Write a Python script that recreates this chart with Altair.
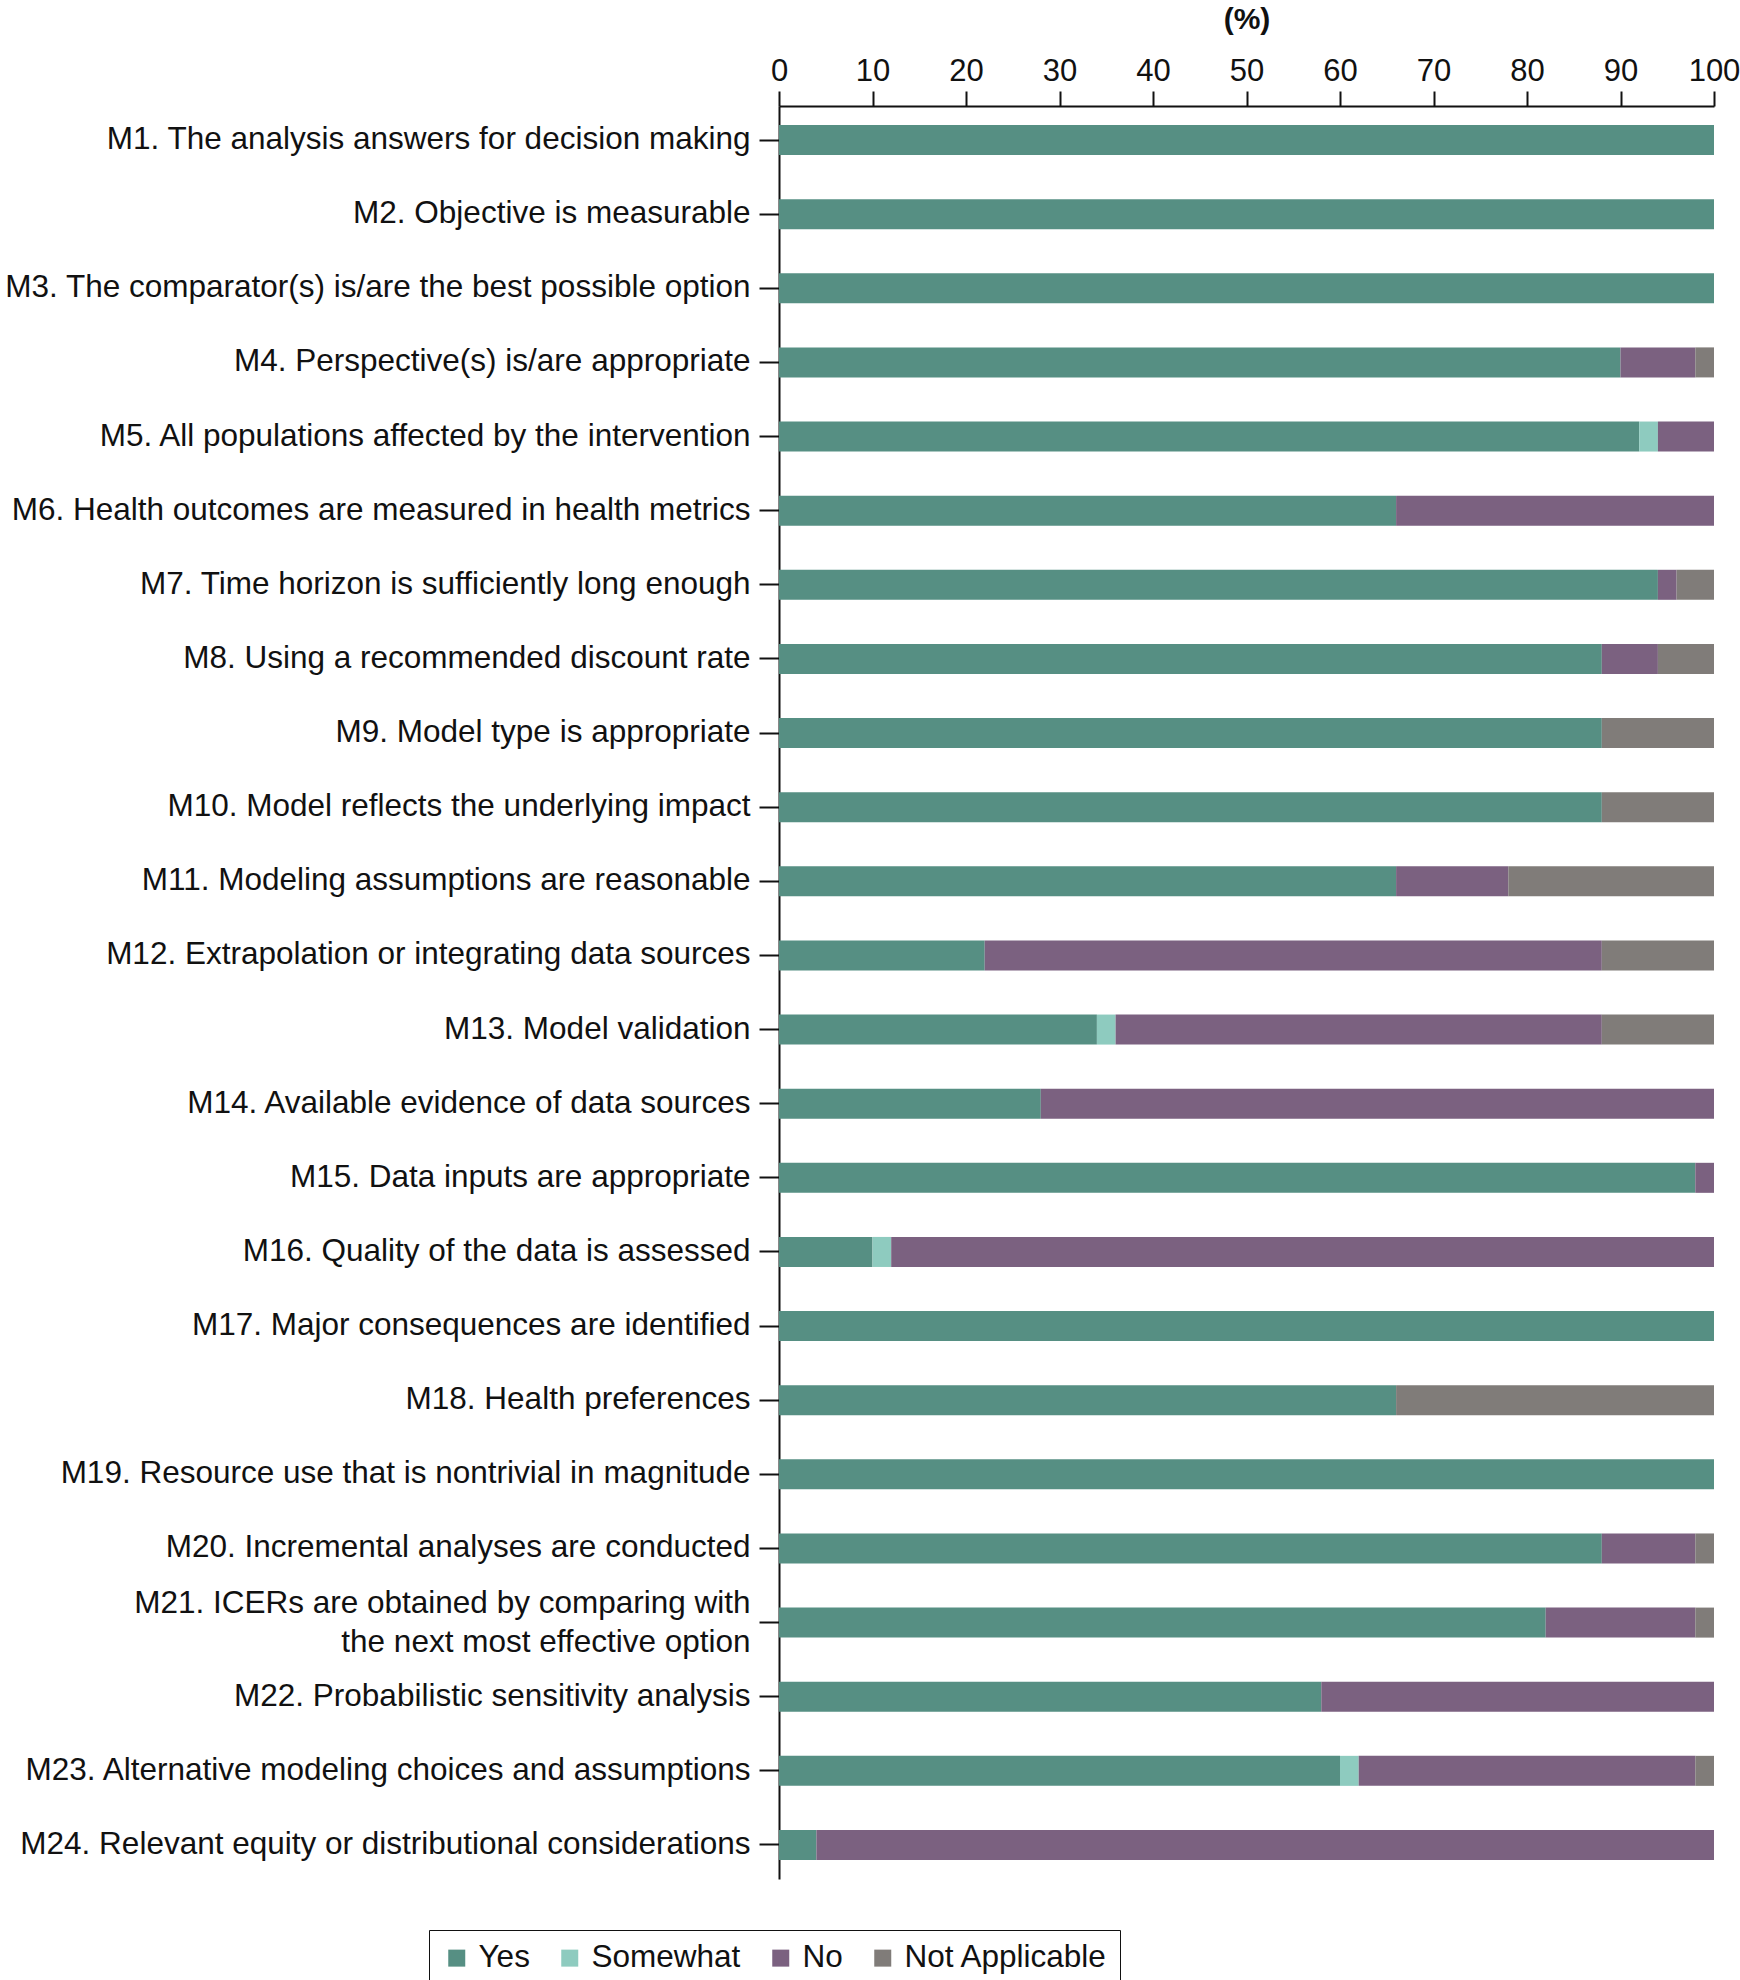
import altair as alt
import pandas as pd

items = [
    "M1. The analysis answers for decision making",
    "M2. Objective is measurable",
    "M3. The comparator(s) is/are the best possible option",
    "M4. Perspective(s) is/are appropriate",
    "M5. All populations affected by the intervention",
    "M6. Health outcomes are measured in health metrics",
    "M7. Time horizon is sufficiently long enough",
    "M8. Using a recommended discount rate",
    "M9. Model type is appropriate",
    "M10. Model reflects the underlying impact",
    "M11. Modeling assumptions are reasonable",
    "M12. Extrapolation or integrating data sources",
    "M13. Model validation",
    "M14. Available evidence of data sources",
    "M15. Data inputs are appropriate",
    "M16. Quality of the data is assessed",
    "M17. Major consequences are identified",
    "M18. Health preferences",
    "M19. Resource use that is nontrivial in magnitude",
    "M20. Incremental analyses are conducted",
    "M21. ICERs are obtained by comparing with\u00a0|the next most effective option",
    "M22. Probabilistic sensitivity analysis",
    "M23. Alternative modeling choices and assumptions",
    "M24. Relevant equity or distributional considerations",
]
yes = [100, 100, 100, 90, 92, 66, 94, 88, 88, 88, 66, 22, 34, 28, 98, 10, 100, 66, 100, 88, 82, 58, 60, 4]
somewhat = [0, 0, 0, 0, 2, 0, 0, 0, 0, 0, 0, 0, 2, 0, 0, 2, 0, 0, 0, 0, 0, 0, 2, 0]
no = [0, 0, 0, 8, 6, 34, 2, 6, 0, 0, 12, 66, 52, 72, 2, 88, 0, 0, 0, 10, 16, 42, 36, 96]
na = [0, 0, 0, 2, 0, 0, 4, 6, 12, 12, 22, 12, 12, 0, 0, 0, 0, 34, 0, 2, 2, 0, 2, 0]

categories = ["Yes", "Somewhat", "No", "Not Applicable"]
colors = ["#568f83", "#8ecbbf", "#7b6180", "#807c79"]
x_ticks = [0, 10, 20, 30, 40, 50, 60, 70, 80, 90, 100]

rows = []
for i, item in enumerate(items):
    for k, (cat, vals) in enumerate(zip(categories, [yes, somewhat, no, na])):
        if vals[i] > 0:
            rows.append({"item": item, "category": cat, "value": vals[i], "order": k})
df = pd.DataFrame(rows)

FONT = "Liberation Sans"
INK = "#111111"

chart = alt.Chart(df).mark_bar().encode(
    x=alt.X(
        "value:Q",
        stack="zero",
        scale=alt.Scale(domain=[0, 100], nice=False),
        axis=alt.Axis(
            orient="top",
            values=x_ticks,
            title="(%)",
            titleFontWeight="bold",
            titleFontSize=30,
            titleFont=FONT,
            titleColor=INK,
            titlePadding=21,
            labelFont=FONT,
            labelFontSize=31,
            labelColor=INK,
            labelPadding=4,
            tickSize=15,
            tickWidth=2,
            tickColor=INK,
            domainColor=INK,
            domainWidth=2,
            grid=False,
            labelFlush=False,
        ),
    ),
    y=alt.Y(
        "item:N",
        sort=items,
        scale=alt.Scale(paddingInner=0.595, paddingOuter=0.2565),
        axis=alt.Axis(
            title=None,
            labelExpr="split(datum.label, '|')",
            labelFont=FONT,
            labelFontSize=31.5,
            labelColor=INK,
            labelLineHeight=39,
            labelOffset={
                "condition": {"test": "indexof(datum.value, 'M21.') == 0", "value": -19},
                "value": 0,
            },
            labelPadding=9,
            labelLimit=900,
            tickSize=20,
            tickWidth=2,
            tickColor=INK,
            domainColor=INK,
            domainWidth=2,
        ),
    ),
    color=alt.Color(
        "category:N",
        scale=alt.Scale(domain=categories, range=colors),
        legend=alt.Legend(
            title=None,
            orient="none",
            legendX=-350,
            legendY=1824,
            direction="horizontal",
            columns=4,
            symbolType="square",
            symbolSize=289,
            symbolStrokeWidth=0,
            labelFont=FONT,
            labelFontSize=31.5,
            labelColor=INK,
            labelLimit=0,
            columnPadding=24,
            strokeColor=INK,
            padding=12,
            labelOffset=6,
        ),
    ),
    order=alt.Order("order:Q"),
).properties(
    width=935,
    height=1773,
    autosize=alt.AutoSizeParams(type="none"),
    padding={"left": 779, "top": 106, "right": 26, "bottom": 101},
).configure_view(stroke=None)

chart.save("out.html", embed_options={"renderer": "svg", "actions": False})
